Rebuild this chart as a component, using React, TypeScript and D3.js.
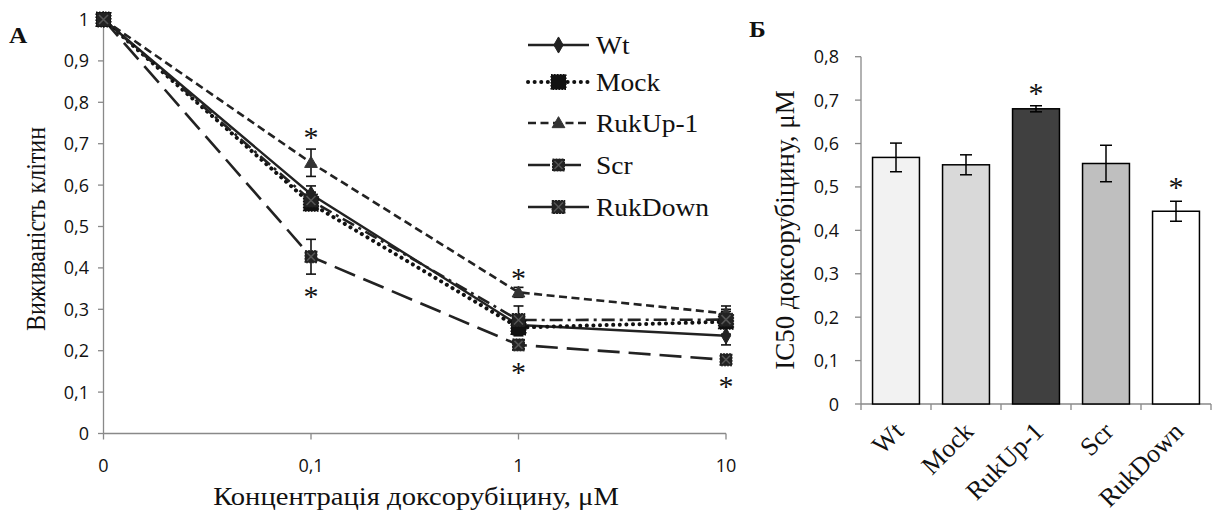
import React from "react";
import * as d3 from "d3";

// ---------- Panel A data ----------
const concLabels = ["0", "0,1", "1", "10"];
const wtVals = [1, 0.578, 0.262, 0.236];
const wtErr = [0, 0.02, 0.01, 0.022];
const mockVals = [1, 0.555, 0.256, 0.27];
const mockErr = [0, 0.015, 0.02, 0.03];
const rukUpVals = [1, 0.654, 0.341, 0.29];
const rukUpErr = [0, 0.033, 0.012, 0.018];
const scrVals = [1, 0.427, 0.214, 0.178];
const scrErr = [0, 0.042, 0.01, 0.008];
const rukDownVals = [1, 0.563, 0.274, 0.275];
const rukDownErr = [0, 0.02, 0.034, 0.02];
const yTicksA = [0, 0.1, 0.2, 0.3, 0.4, 0.5, 0.6, 0.7, 0.8, 0.9, 1];
const seriesNames = ["Wt", "Mock", "RukUp-1", "Scr", "RukDown"];

// ---------- Panel Б data ----------
const groups = ["Wt", "Mock", "RukUp-1", "Scr", "RukDown"];
const ic50 = [0.568, 0.551, 0.68, 0.554, 0.444];
const ic50Err = [0.033, 0.023, 0.007, 0.042, 0.023];
const yTicksB = [0, 0.1, 0.2, 0.3, 0.4, 0.5, 0.6, 0.7, 0.8];

const fmt = (v: number) => (v === 0 ? "0" : v === 1 ? "1" : d3.format(".1f")(v).replace(".", ","));

const AXIS = "#898989";
const INK = "#222";
const SERIF = "'Liberation Serif', 'Times New Roman', serif";
const SANS = "'Open Sans', 'Noto Sans', sans-serif";
const SX = 1.1; // horizontal stretch of the serif captions

type S = { name: string; vals: number[]; err: number[]; dash: string; cap: "butt" | "round"; width: number; marker: string };
const series: S[] = [
  { name: seriesNames[0], vals: wtVals, err: wtErr, dash: "", cap: "butt", width: 2.4, marker: "diamond" },
  { name: seriesNames[1], vals: mockVals, err: mockErr, dash: "0.1,6.5", cap: "round", width: 4, marker: "bigsquare" },
  { name: seriesNames[2], vals: rukUpVals, err: rukUpErr, dash: "8,4.5", cap: "butt", width: 2.6, marker: "triangle" },
  { name: seriesNames[3], vals: scrVals, err: scrErr, dash: "22,9", cap: "butt", width: 2.6, marker: "xsquare" },
  { name: seriesNames[4], vals: rukDownVals, err: rukDownErr, dash: "13,5,3,5", cap: "butt", width: 2.6, marker: "xsquare2" },
];

function Marker({ type, x, y }: { type: string; x: number; y: number }) {
  if (type === "diamond") {
    return <path d={d3.symbol(d3.symbolDiamond, 75)()!} transform={`translate(${x},${y})`} fill={INK} stroke={INK} strokeWidth={1} />;
  }
  if (type === "triangle") {
    return <path d={d3.symbol(d3.symbolTriangle, 70)()!} transform={`translate(${x},${y + 1})`} fill="#333" stroke="#333" strokeWidth={1} />;
  }
  if (type === "bigsquare") {
    return <rect x={x - 7.5} y={y - 7.5} width={15} height={15} fill="#111" stroke="#111" strokeWidth={1.2} strokeDasharray="1.5,1.5" />;
  }
  const s = type === "xsquare" ? 6 : 6.5;
  return (
    <g>
      <rect x={x - s} y={y - s} width={2 * s} height={2 * s} fill="#222" stroke="#222" strokeWidth={1} strokeDasharray="2,1" />
      <path d={`M${x - s + 2},${y - s + 2}L${x + s - 2},${y + s - 2}M${x + s - 2},${y - s + 2}L${x - s + 2},${y + s - 2}`} stroke="#555" strokeWidth={1.5} />
    </g>
  );
}

function Star({ x, y, size = 30 }: { x: number; y: number; size?: number }) {
  return (
    <text x={x} y={y + size * 0.46} textAnchor="middle" fontFamily={SERIF} fontSize={size} fill="#111">
      *
    </text>
  );
}

function HText({ x, y, size, anchor = "start", bold = false, children }: { x: number; y: number; size: number; anchor?: string; bold?: boolean; children: React.ReactNode }) {
  return (
    <text transform={`translate(${x},${y}) scale(${SX},1)`} textAnchor={anchor} fontFamily={SERIF} fontSize={size} fontWeight={bold ? "bold" : "normal"} fill="#111">
      {children}
    </text>
  );
}

export default function App() {
  const xA = d3.scalePoint<string>().domain(concLabels).range([103.5, 726]);
  const yA = d3.scaleLinear().domain([0, 1]).range([433.5, 19.5]);
  const line = d3
    .line<number>()
    .x((_, i) => xA(concLabels[i])!)
    .y((d) => yA(d));

  const xB = d3.scaleBand<string>().domain(groups).range([861, 1211]).paddingInner(0.33).paddingOuter(0.165);
  const yB = d3.scaleLinear().domain([0, 0.8]).range([404, 56.7]);

  const legendY = [45, 82, 123, 165, 207];

  return (
    <svg width={1222} height={523} style={{ position: "absolute", left: 0, top: 0, background: "#fff" }}>
      <rect width={1222} height={523} fill="#fff" />
      {/* ===== Panel A ===== */}
      <HText x={9} y={43} size={23} bold>А</HText>
      <line x1={103.5} x2={103.5} y1={yA(1)} y2={yA(0)} stroke={AXIS} strokeWidth={1.3} />
      {yTicksA.map((t) => (
        <g key={t}>
          <line x1={98} x2={103.5} y1={yA(t)} y2={yA(t)} stroke={AXIS} strokeWidth={1.3} />
          <text x={89} y={yA(t) + 6.5} textAnchor="end" fontFamily={SANS} fontSize={18} fill="#111">
            {fmt(t)}
          </text>
        </g>
      ))}
      <line x1={103.5} x2={726} y1={yA(0)} y2={yA(0)} stroke={AXIS} strokeWidth={1.3} />
      {concLabels.map((c) => (
        <g key={c}>
          <line x1={xA(c)} x2={xA(c)} y1={yA(0)} y2={yA(0) + 6} stroke={AXIS} strokeWidth={1.3} />
          <text x={xA(c)} y={472} textAnchor="middle" fontFamily={SANS} fontSize={18} fill="#111">
            {c}
          </text>
        </g>
      ))}
      <HText x={416} y={505} size={26} anchor="middle">Концентрація доксорубіцину, μM</HText>
      <text transform={`translate(45,229) scale(1.15,1) rotate(-90)`} textAnchor="middle" fontFamily={SERIF} fontSize={24} fill="#111">
        Виживаність клітин
      </text>

      {series.map((s) => (
        <path key={s.name} d={line(s.vals)!} fill="none" stroke={s.name === "Mock" ? "#111" : INK} strokeWidth={s.width} strokeDasharray={s.dash || undefined} strokeLinecap={s.cap} />
      ))}
      {series.map((s) =>
        s.vals.map((v, i) =>
          s.err[i] > 0 ? (
            <g key={s.name + i} stroke="#111" strokeWidth={1.6}>
              <line x1={xA(concLabels[i])} x2={xA(concLabels[i])} y1={yA(v - s.err[i])} y2={yA(v + s.err[i])} />
              <line x1={xA(concLabels[i])! - 5} x2={xA(concLabels[i])! + 5} y1={yA(v - s.err[i])} y2={yA(v - s.err[i])} />
              <line x1={xA(concLabels[i])! - 5} x2={xA(concLabels[i])! + 5} y1={yA(v + s.err[i])} y2={yA(v + s.err[i])} />
            </g>
          ) : null
        )
      )}
      {series.map((s) => s.vals.map((v, i) => <Marker key={s.name + "m" + i} type={s.marker} x={xA(concLabels[i])!} y={yA(v)} />))}
      <Star x={xA("0,1")!} y={yA(rukUpVals[1] + rukUpErr[1]) - 16} />
      <Star x={xA("1")!} y={yA(rukUpVals[2] + rukUpErr[2]) - 13} />
      <Star x={xA("0,1")!} y={yA(scrVals[1] - scrErr[1]) + 18} />
      <Star x={xA("1")!} y={yA(scrVals[2] - scrErr[2]) + 19} />
      <Star x={xA("10")!} y={yA(scrVals[3] - scrErr[3]) + 19} />

      {series.map((s, i) => (
        <g key={s.name + "leg"}>
          <line x1={528} x2={589} y1={legendY[i]} y2={legendY[i]} stroke={s.name === "Mock" ? "#111" : INK} strokeWidth={s.width} strokeDasharray={s.name === "RukDown" ? undefined : s.dash || undefined} strokeLinecap={s.cap} />
          <Marker type={s.marker} x={558.5} y={legendY[i]} />
          <HText x={596} y={legendY[i] + 9} size={25}>{s.name}</HText>
        </g>
      ))}

      {/* ===== Panel Б ===== */}
      <HText x={749} y={37} size={23} bold>Б</HText>
      <line x1={861} x2={861} y1={yB(0.8)} y2={yB(0)} stroke={AXIS} strokeWidth={1.3} />
      {yTicksB.map((t) => (
        <g key={"b" + t}>
          <line x1={855} x2={861} y1={yB(t)} y2={yB(t)} stroke={AXIS} strokeWidth={1.3} />
          <text x={839} y={yB(t) + 6.5} textAnchor="end" fontFamily={SANS} fontSize={18} fill="#111">
            {fmt(t)}
          </text>
        </g>
      ))}
      <line x1={861} x2={1211} y1={yB(0)} y2={yB(0)} stroke={AXIS} strokeWidth={1.3} />
      {[...groups.map((g) => xB(g)! - (xB.step() - xB.bandwidth()) / 2), 1211].map((x, i) => (
        <line key={"bt" + i} x1={x} x2={x} y1={yB(0)} y2={yB(0) + 6} stroke={AXIS} strokeWidth={1.3} />
      ))}
      <text transform={`translate(794,230) scale(1.05,1) rotate(-90)`} textAnchor="middle" fontFamily={SERIF} fontSize={27} fill="#111">
        IC50 доксорубіцину, μM
      </text>
      {groups.map((g, i) => {
        const fills = ["#f2f2f2", "#d9d9d9", "#404040", "#bfbfbf", "#ffffff"];
        const cx = xB(g)! + xB.bandwidth() / 2;
        return (
          <g key={"bar" + g}>
            <rect x={xB(g)} y={yB(ic50[i])} width={xB.bandwidth()} height={yB(0) - yB(ic50[i])} fill={fills[i]} stroke="#000" strokeWidth={1.5} />
            <g stroke="#000" strokeWidth={1.5}>
              <line x1={cx} x2={cx} y1={yB(ic50[i] - ic50Err[i])} y2={yB(ic50[i] + ic50Err[i])} />
              <line x1={cx - 6} x2={cx + 6} y1={yB(ic50[i] - ic50Err[i])} y2={yB(ic50[i] - ic50Err[i])} />
              <line x1={cx - 6} x2={cx + 6} y1={yB(ic50[i] + ic50Err[i])} y2={yB(ic50[i] + ic50Err[i])} />
            </g>
            <text transform={`translate(${cx + 9},${433}) rotate(-45)`} textAnchor="end" fontFamily={SERIF} fontSize={26} fill="#111">
              {g}
            </text>
          </g>
        );
      })}
      <Star x={xB("RukUp-1")! + xB.bandwidth() / 2} y={yB(ic50[2] + ic50Err[2]) - 17} />
      <Star x={xB("RukDown")! + xB.bandwidth() / 2} y={yB(ic50[4] + ic50Err[4]) - 18} />
    </svg>
  );
}
